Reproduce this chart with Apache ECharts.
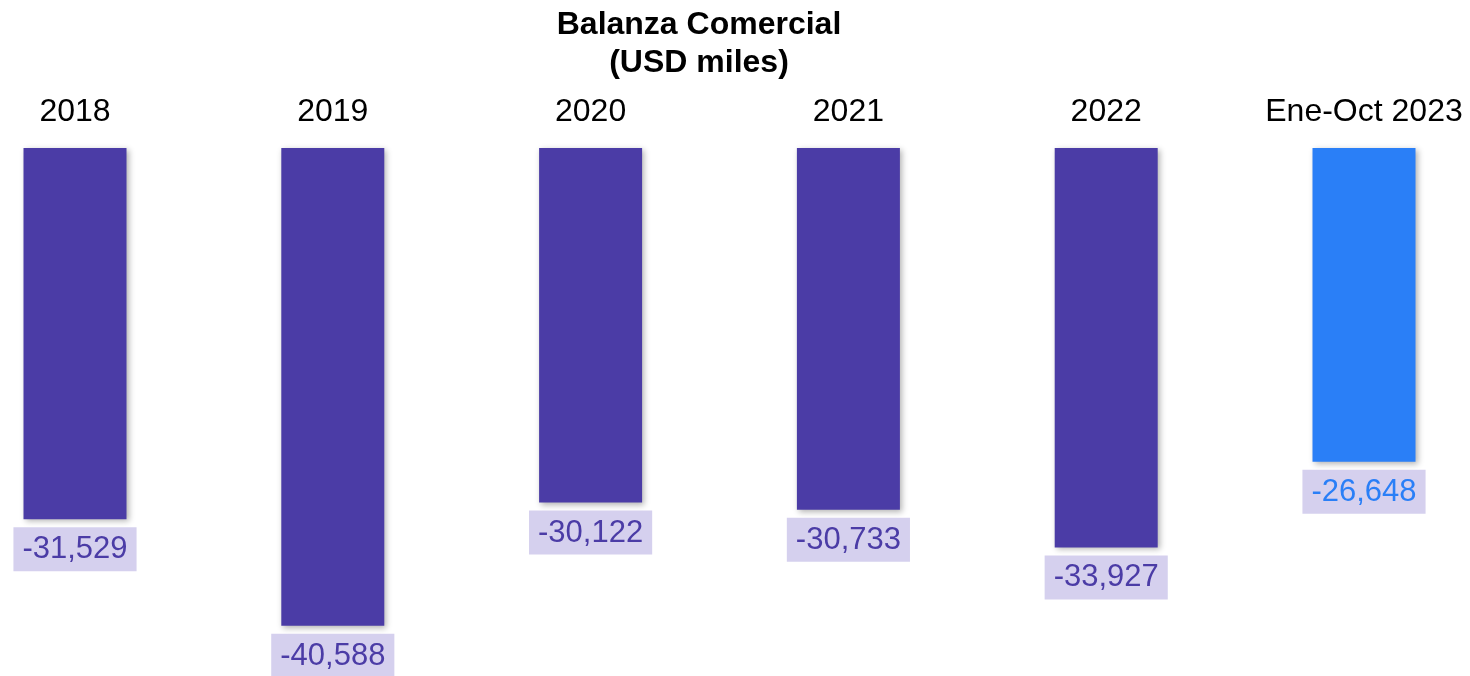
<!DOCTYPE html>
<html>
<head>
<meta charset="utf-8">
<script src="https://cdn.jsdelivr.net/npm/echarts@6/dist/echarts.min.js"></script>
<style>
  html, body { margin: 0; padding: 0; background: #fff; }
  #chart { width: 1470px; height: 676px; }
</style>
</head>
<body>
<div id="chart"></div>
<script>
// datos
var categories = ['2018', '2019', '2020', '2021', '2022', 'Ene-Oct 2023'];
var balanza = [-31529, -40588, -30122, -30733, -33927, -26648];
var highlightIndex = 5; // periodo parcial

var purple = '#4b3ca6';
var blue = '#2a7ff7';
var labelBg = '#d5d0ee';

var chart = echarts.init(document.getElementById('chart'));

chart.setOption({
  animation: false,
  title: {
    text: 'Balanza Comercial\n(USD miles)',
    left: 694,
    textAlign: 'center',
    top: 1,
    textStyle: {
      fontFamily: 'Liberation Sans',
      fontSize: 32,
      fontWeight: 'bold',
      color: '#000',
      lineHeight: 38
    }
  },
  grid: {
    top: 148,
    bottom: 10,
    left: 75,
    right: 106
  },
  xAxis: {
    type: 'category',
    position: 'top',
    boundaryGap: false,
    data: categories,
    axisLine: { show: false },
    axisTick: { show: false },
    axisLabel: {
      fontFamily: 'Liberation Sans',
      fontSize: 32,
      color: '#000',
      margin: 20
    }
  },
  yAxis: {
    type: 'value',
    min: -44000,
    max: 0,
    show: false,
    splitLine: { show: false }
  },
  series: [
    {
      type: 'bar',
      clip: false,
      barWidth: 103,
      data: balanza.map(function (v, i) {
        var c = i === highlightIndex ? blue : purple;
        return {
          value: v,
          itemStyle: { color: c },
          label: { color: c }
        };
      }),
      itemStyle: {
        shadowColor: 'rgba(0,0,0,0.3)',
        shadowBlur: 6,
        shadowOffsetX: 2,
        shadowOffsetY: 2
      },
      label: {
        show: true,
        position: 'bottom',
        distance: 8,
        fontFamily: 'Liberation Sans',
        fontSize: 31,
        backgroundColor: labelBg,
        padding: [7, 9, 6, 9],
        formatter: function (p) {
          return '-' + Math.abs(p.value).toLocaleString('en-US');
        }
      }
    }
  ]
});
</script>
</body>
</html>
